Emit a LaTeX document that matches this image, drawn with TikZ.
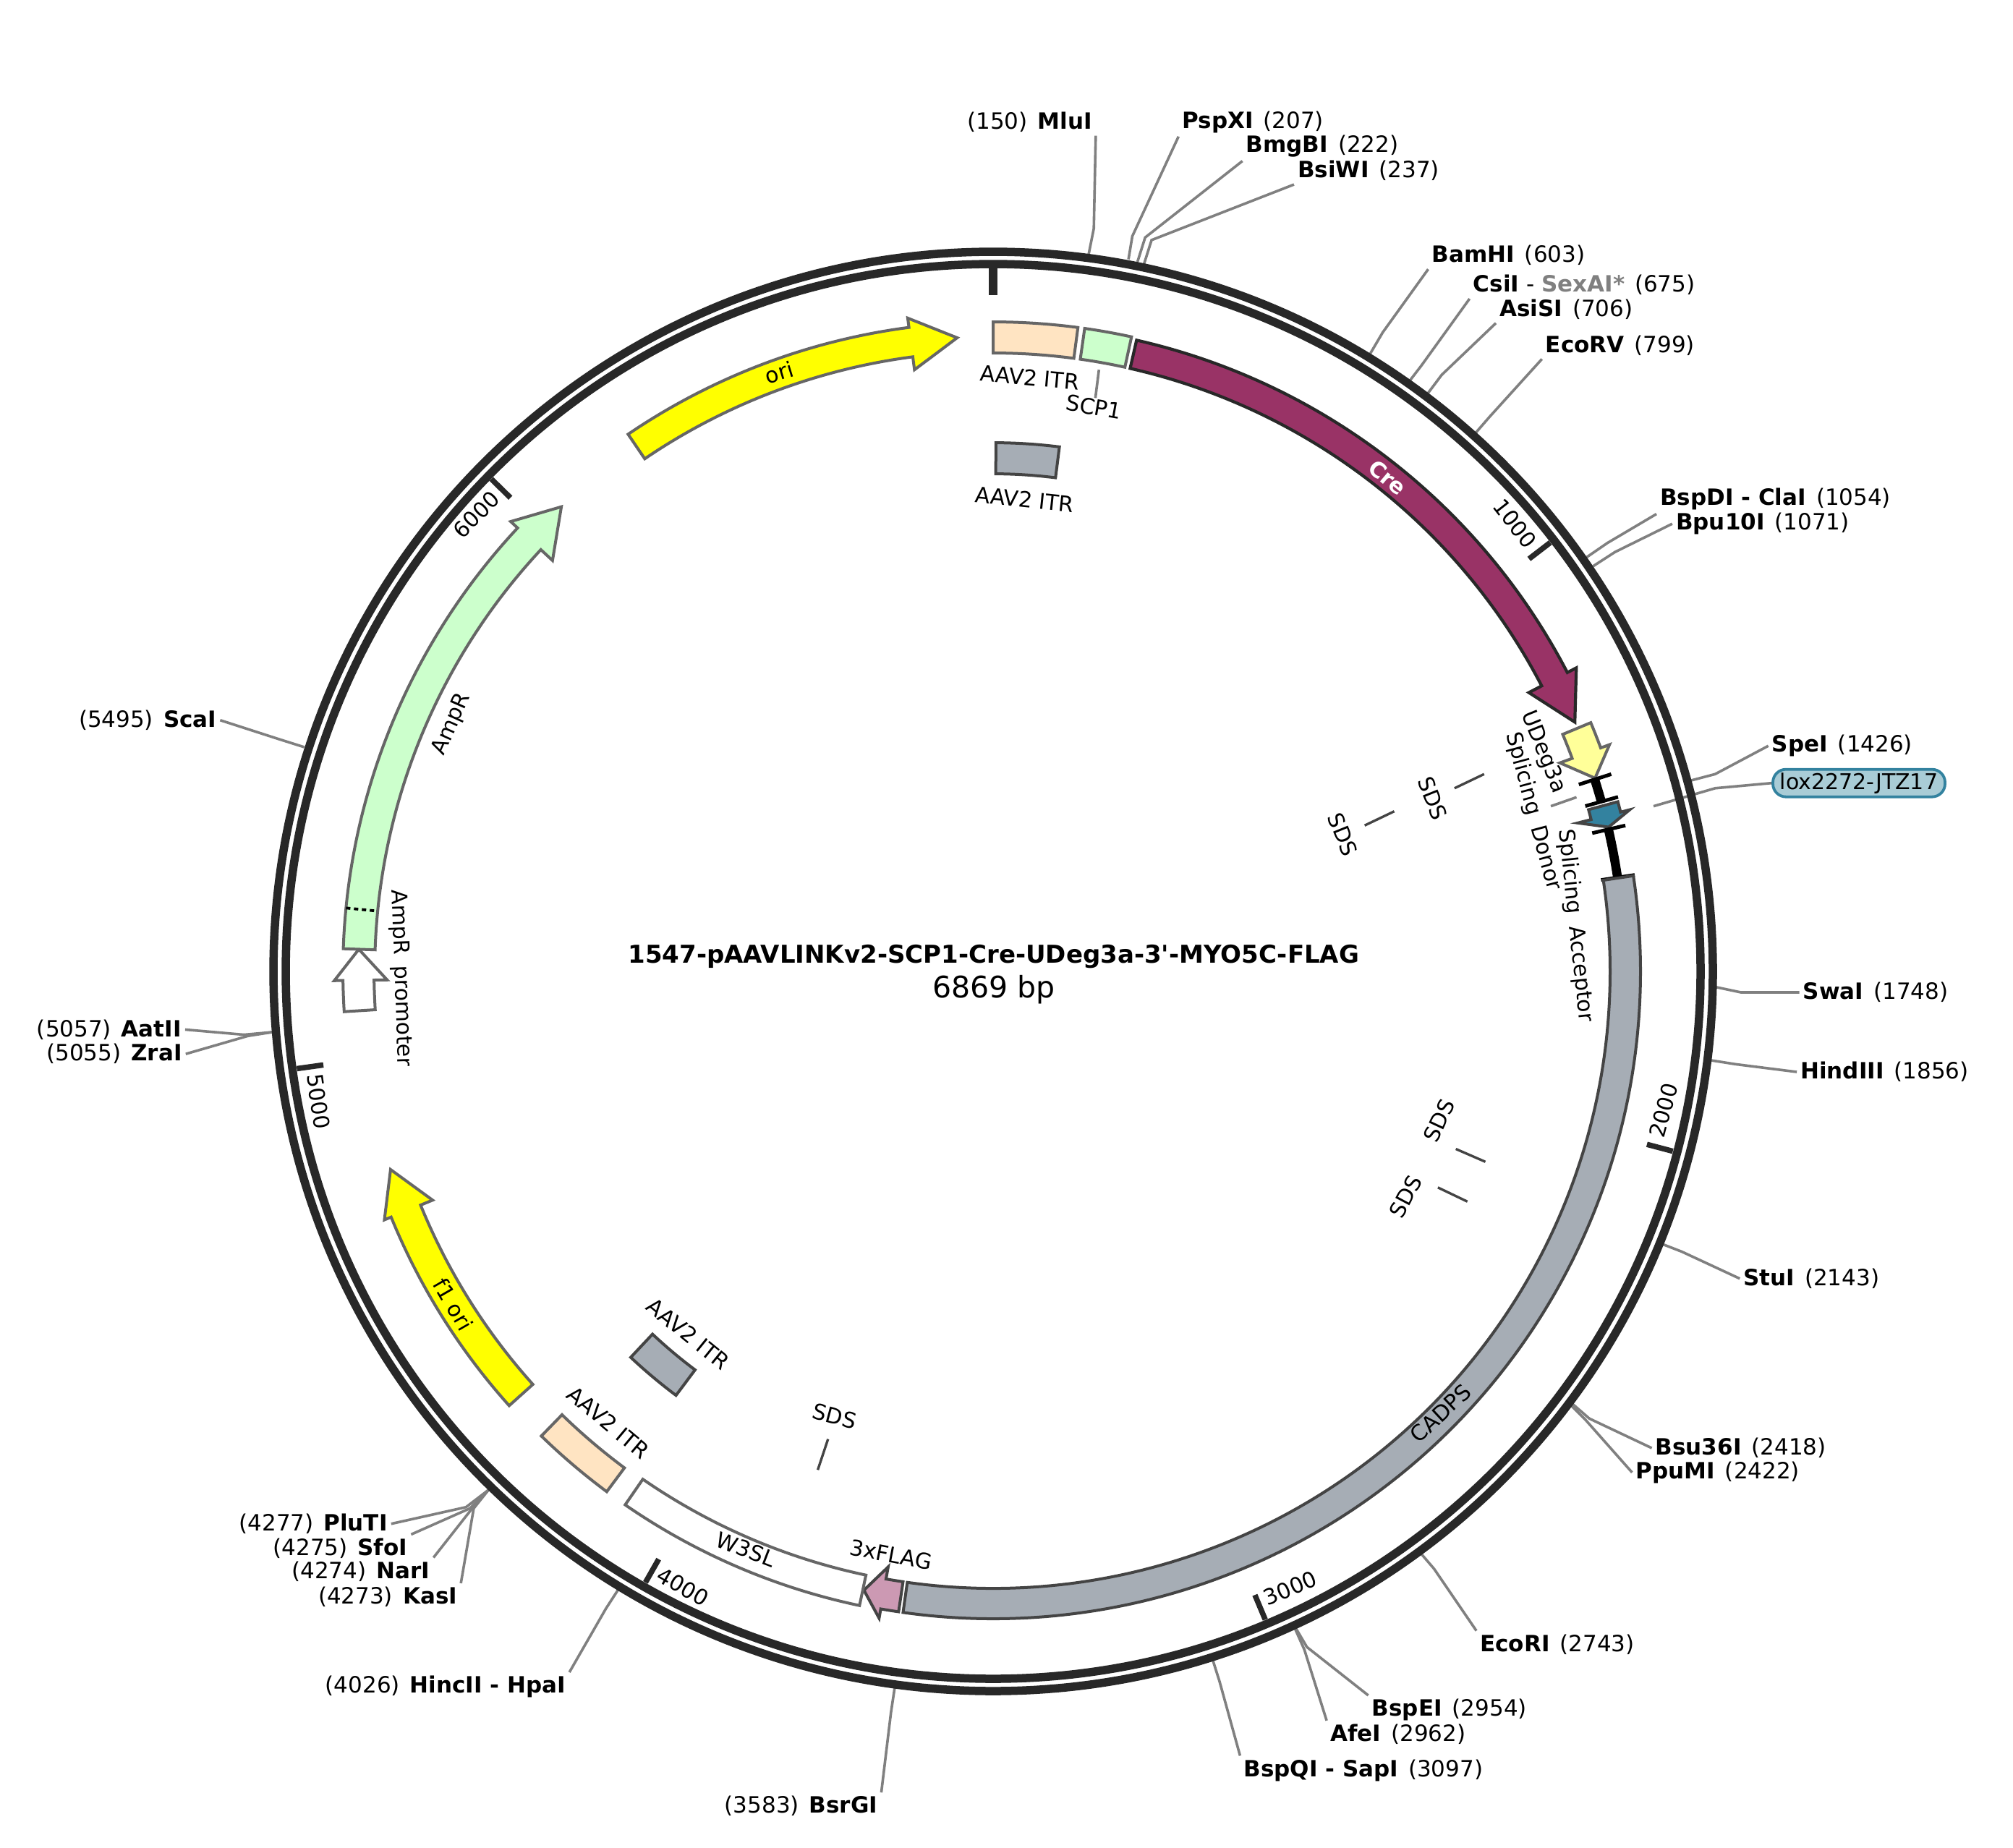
\documentclass[tikz,border=0pt]{standalone}
\usepackage{fontspec}
\setmainfont{DejaVu Sans}
\definecolor{ringgray}{HTML}{282828}
\definecolor{leadgray}{HTML}{808080}
\definecolor{edgegray}{HTML}{666666}
\definecolor{edgedark}{HTML}{444444}
\definecolor{cregreen}{HTML}{CCFFCC}
\definecolor{itrpeach}{HTML}{FFE4C2}
\definecolor{crepurple}{HTML}{993366}
\definecolor{cadpsgray}{HTML}{A6ADB5}
\definecolor{oriyellow}{HTML}{FFFF00}
\definecolor{paleyellow}{HTML}{FFFF99}
\definecolor{loxteal}{HTML}{33829F}
\definecolor{loxpale}{HTML}{A9CCD6}
\definecolor{flagpink}{HTML}{CC99B3}
\newcommand{\gap}{\hspace{.45em}}
\tikzset{
  sitelabel/.style={font=\fontsize{31}{34}\selectfont, inner sep=5pt},
  featlabel/.style={font=\fontsize{30}{34}\selectfont, inner sep=1pt},
  leader/.style={color=leadgray, line width=3.6pt},
  shortlead/.style={color=edgedark, line width=3.4pt},
  feat/.style={draw=edgegray, line width=4pt, line join=miter},
  featdark/.style={draw=edgedark, line width=4pt, line join=miter},
  ringband/.style={draw=ringgray, line width=11.5pt},
  ringtick/.style={color=ringgray, line width=7.5pt},
  splice/.style={color=black, line width=12.5pt},
  splicetick/.style={color=black, line width=5pt},
}
\newcommand{\featbox}[5]{%
  \draw [#1] ({90-#2}:#5) arc [start angle={90-#2}, end angle={90-#3}, radius=#5]
    -- ({90-#3}:#4) arc [start angle={90-#3}, end angle={90-#2}, radius=#4] -- cycle;}
\newcommand{\featarrow}[8]{%
  \draw [#1] ({90-#2}:#6) arc [start angle={90-#2}, end angle={90-#3}, radius=#6]
    -- ({90-#3}:#8) -- ({90-#4}:{(#5+#6)/2}) -- ({90-#3}:#7) -- ({90-#3}:#5)
    arc [start angle={90-#3}, end angle={90-#2}, radius=#5] -- cycle;}
\begin{document}
\begin{tikzpicture}[%
x=1.7749pt, y=-1.7749pt,
]
\useasboundingbox (0,0) rectangle (1568,1439);
%% site;
\node [sitelabel] (mlui) at (802,95) {(150)\gap\textbf{MluI}};
\draw [leader] (848,198) -- (852,178) -- (mlui.south east);
\node [sitelabel] (pspxi) at (976,95) {\textbf{PspXI}\gap(207)};
\draw [leader] (879,202) -- (882,184) -- (pspxi.south west);
\node [sitelabel] (bmgbi) at (1030,114) {\textbf{BmgBI}\gap(222)};
\draw [leader] (886,204) -- (892,185) -- (bmgbi.south west);
\node [sitelabel] (bsiwi) at (1066,133) {\textbf{BsiWI}\gap(237)};
\draw [leader] (891,206) -- (897,187) -- (bsiwi.south west);
\node [sitelabel] (bamhi) at (1175,199) {\textbf{BamHI}\gap(603)};
\draw [leader] (1067,276) -- (1077,259) -- (bamhi.south west);
\node [sitelabel] (csii) at (1234,222) {\textbf{CsiI} - \textcolor{leadgray}{\textbf{SexAI*}}\gap(675)};
\draw [leader] (1097,298) -- (1107,285) -- (csii.south west);
\node [sitelabel] (asisi) at (1220,241) {\textbf{AsiSI}\gap(706)};
\draw [leader] (1111,308) -- (1123,292) -- (asisi.south west);
\node [sitelabel] (ecorv) at (1262,269) {\textbf{EcoRV}\gap(799)};
\draw [leader] (1147,340) -- (1160,325) -- (ecorv.south west);
\node [sitelabel] (bspdi) at (1383,389) {\textbf{BspDI - ClaI}\gap(1054)};
\draw [leader] (1236,434) -- (1252,423) -- (bspdi.south west);
\node [sitelabel] (bpui) at (1373,408) {\textbf{Bpu10I}\gap(1071)};
\draw [leader] (1241,441) -- (1258,430) -- (bpui.west);
\node [sitelabel] (spei) at (1435,581) {\textbf{SpeI}\gap(1426)};
\draw [leader] (1317,608) -- (1336,603) -- (spei.west);
\node [sitelabel] (swai) at (1461,773) {\textbf{SwaI}\gap(1748)};
\draw [leader] (1337,769) -- (1356,773) -- (swai.west);
\node [sitelabel] (hindiii) at (1468,835) {\textbf{HindIII}\gap(1856)};
\draw [leader] (1333,826) -- (1352,829) -- (hindiii.west);
\node [sitelabel] (stui) at (1411,996) {\textbf{StuI}\gap(2143)};
\draw [leader] (1292,968) -- (1310,975) -- (stui.west);
\node [sitelabel] (bsui) at (1356,1128) {\textbf{Bsu36I}\gap(2418)};
\draw [leader] (1223,1092) -- (1238,1105) -- (bsui.west);
\node [sitelabel] (ppumi) at (1338,1147) {\textbf{PpuMI}\gap(2422)};
\draw [leader] (1222,1093) -- (1235,1106) -- (ppumi.west);
\node [sitelabel] (ecori) at (1213,1281) {\textbf{EcoRI}\gap(2743)};
\draw [leader] (1105,1208) -- (1117,1222) -- (ecori.north west);
\node [sitelabel] (bspei) at (1129,1332) {\textbf{BspEI}\gap(2954)};
\draw [leader] (1008,1266) -- (1018,1283) -- (bspei.north west);
\node [sitelabel] (afei) at (1089,1351) {\textbf{AfeI}\gap(2962)};
\draw [leader] (1008,1267) -- (1016,1285) -- (afei.north west);
\node [sitelabel] (bspqi) at (1062,1379) {\textbf{BspQI - SapI}\gap(3097)};
\draw [leader] (944,1291) -- (950,1310) -- (bspqi.north west);
\node [sitelabel] (bsrgi) at (624,1407) {(3583)\gap\textbf{BsrGI}};
\draw [leader] (697,1314) -- (694,1334) -- (bsrgi.north east);
\node [sitelabel] (hincii) at (347,1314) {(4026)\gap\textbf{HincII - HpaI}};
\draw [leader] (483,1236) -- (472,1253) -- (hincii.north east);
\node [sitelabel] (kasi) at (302,1244) {(4273)\gap\textbf{KasI}};
\draw [leader] (381,1160) -- (369,1175) -- (kasi.north east);
\node [sitelabel] (nari) at (281,1224) {(4274)\gap\textbf{NarI}};
\draw [leader] (380,1161) -- (367,1176) -- (nari.north east);
\node [sitelabel] (sfoi) at (265,1206) {(4275)\gap\textbf{SfoI}};
\draw [leader] (380,1161) -- (366,1175) -- (sfoi.north east);
\node [sitelabel] (pluti) at (244,1187) {(4277)\gap\textbf{PluTI}};
\draw [leader] (380,1161) -- (363,1174) -- (pluti.east);
\node [sitelabel] (zrai) at (89,821) {(5055)\gap\textbf{ZraI}};
\draw [leader] (212,804) -- (193,807) -- (zrai.east);
\node [sitelabel] (aatii) at (85,802) {(5057)\gap\textbf{AatII}};
\draw [leader] (212,804) -- (190,806) -- (aatii.east);
\node [sitelabel] (scai) at (115,561) {(5495)\gap\textbf{ScaI}};
\draw [leader] (237,582) -- (218,576) -- (scai.east);
%% lox label;
\node [sitelabel, font=\fontsize{30}{34}\selectfont, draw=loxteal, fill=loxpale, line width=3.8pt, rounded corners=18pt, minimum width=238pt, minimum height=38pt, inner sep=0pt] (lox) at (1448,610) {lox2272-JTZ17};
\draw [leader] (1288,628) -- (1336,614) -- (lox.west);
\draw [leader] (1208,628) -- (1228,621);
%% backbone;
\begin{scope}[shift={(773.6,756.7)}, x=1pt, y=1pt]
\draw [ringband] (0,0) circle (995);
\draw [ringband] (0,0) circle (978);
\draw [color=ringgray, line width=12pt] (90:972) -- (90:935);
\draw [ringtick] ({90-52.41}:972) -- ({90-52.41}:935);
\draw [ringtick] ({90-104.82}:972) -- ({90-104.82}:935);
\draw [ringtick] ({90-157.23}:972) -- ({90-157.23}:935);
\draw [ringtick] ({90-209.64}:972) -- ({90-209.64}:935);
\draw [ringtick] ({90-262.05}:972) -- ({90-262.05}:935);
\draw [ringtick] ({90-314.46}:972) -- ({90-314.46}:935);
%% features;
\featarrow{feat, fill=oriyellow}{325.8}{352.55}{356.75}{857}{898}{839}{911}
\featbox{feat, fill=itrpeach}{0}{7.5}{855}{898}
\featbox{feat, fill=cregreen}{8.1}{12.3}{855}{898}
\featarrow{draw=ringgray, line width=4.2pt, fill=crepurple}{12.8}{62.5}{66.8}{855}{895}{835}{909}
\featarrow{feat, fill=paleyellow}{67.4}{69.8}{72.2}{853}{895}{835}{908}
\draw [splice] ({90-72.3}:873) arc [start angle={90-72.3}, end angle={90-74.4}, radius=873];
\draw [splicetick] ({90-72.3}:850) -- ({90-72.3}:897);
\draw [splicetick] ({90-74.4}:850) -- ({90-74.4}:897);
\featarrow{featdark, fill=loxteal}{74.8}{75.75}{76.8}{853}{895}{834}{908}
\draw [splicetick] ({90-77}:850) -- ({90-77}:897);
\draw [splice] ({90-77}:873) arc [start angle={90-77}, end angle={90-81.4}, radius=873];
\draw [splicetick] ({90-81.45}:850) -- ({90-81.45}:897);
\featbox{featdark, fill=cadpsgray}{81.5}{188.0}{853}{895}
\featarrow{featdark, fill=flagpink}{188.4}{190}{191.8}{853}{895}{836}{908}
\featbox{feat, fill=white}{191.9}{214.6}{853}{896}
\featbox{feat, fill=itrpeach}{216.6}{224.2}{855}{896}
\featarrow{feat, fill=oriyellow}{228.1}{247.8}{251.8}{855}{899}{837}{909}
\featarrow{feat, fill=white}{266.45}{269.2}{272}{856}{899}{838}{911}
\featarrow{feat, fill=cregreen}{272}{313}{317.1}{855}{899}{833}{912}
\draw [color=black, line width=3.8pt, dash pattern=on 6pt off 5pt] ({90-275.6}:899) -- ({90-275.6}:855);
\featbox{featdark, fill=cadpsgray}{0.3}{7.2}{688}{731}
\featbox{featdark, fill=cadpsgray}{216.8}{223.2}{688}{732}
\end{scope}
%% scale labels;
\node [featlabel] (tickone) at (1180,408) [rotate=-52] {1000};
\node [featlabel] (ticktwo) at (1296,865) [rotate=75] {2000};
\node [featlabel] (tickthree) at (1005,1237) [rotate=23] {3000};
\node [featlabel] (tickfour) at (532,1236) [rotate=-30] {4000};
\node [featlabel] (tickfive) at (248,858) [rotate=-82] {5000};
\node [featlabel] (ticksix) at (371,401) [rotate=45] {6000};
%% feature labels;
\node [featlabel] (orilab) at (607,290) [rotate=17] {ori};
\node [featlabel] (itrone) at (802,294) [rotate=-5] {AAV2 ITR};
\node [featlabel] (scplab) at (852,317) [rotate=-10] {SCP1};
\draw [leader] (856,288) -- (scplab.north);
\node [featlabel] (itrtwo) at (798,389) [rotate=-6] {AAV2 ITR};
\node [featlabel, color=white, font=\bfseries\fontsize{30}{34}\selectfont] (crelab) at (1081,372) [rotate=-40] {Cre};
\node [featlabel] (udeg) at (1202,586) [rotate=-68] {UDeg3a};
\node [featlabel] (sdonor) at (1194,632) [rotate=-75] {Splicing\hspace{.55em}Donor};
\node [featlabel] (saccept) at (1227,721) [rotate=-84] {Splicing\hspace{.55em}Acceptor};
\node [featlabel] (sdsa) at (1116,622) [rotate=-68] {SDS};
\draw [shortlead] (1133,614) -- (1156,603);
\node [featlabel] (sdsb) at (1046,650) [rotate=-68] {SDS};
\draw [shortlead] (1063,643) -- (1086,632);
\node [featlabel] (sdsc) at (1121,873) [rotate=65] {SDS};
\draw [shortlead] (1134,895) -- (1157,905);
\node [featlabel] (sdsd) at (1095,932) [rotate=62] {SDS};
\draw [shortlead] (1120,925) -- (1143,936);
\node [featlabel] (sdse) at (650,1103) [rotate=-15] {SDS};
\draw [shortlead] (645,1121) -- (637,1145);
\node [featlabel] (ampr) at (352,564) [rotate=66] {AmpR};
\node [featlabel] (amprp) at (312,762) [rotate=-88] {AmpR\hspace{.5em}promoter};
\node [featlabel] (wsl) at (581,1207) [rotate=-21] {W3SL};
\node [featlabel] (flag) at (694,1211) [rotate=-11] {3xFLAG};
\node [featlabel] (cadps) at (1122,1101) [rotate=43] {CADPS};
\node [featlabel] (fori) at (353,1016) [rotate=-60] {f1 ori};
\node [featlabel] (itrthree) at (474,1108) [rotate=-40] {AAV2 ITR};
\node [featlabel] (itrfour) at (536,1039) [rotate=-39] {AAV2 ITR};
%% title;
\node [font=\bfseries\fontsize{34}{38}\selectfont, inner sep=0pt] (title) at (774,745) {1547-pAAVLINKv2-SCP1-Cre-UDeg3a-3\textquotesingle-MYO5C-FLAG};
\node [font=\fontsize{41}{46}\selectfont, inner sep=0pt] (size) at (774,771) {6869 bp};
\end{tikzpicture}
\end{document}
